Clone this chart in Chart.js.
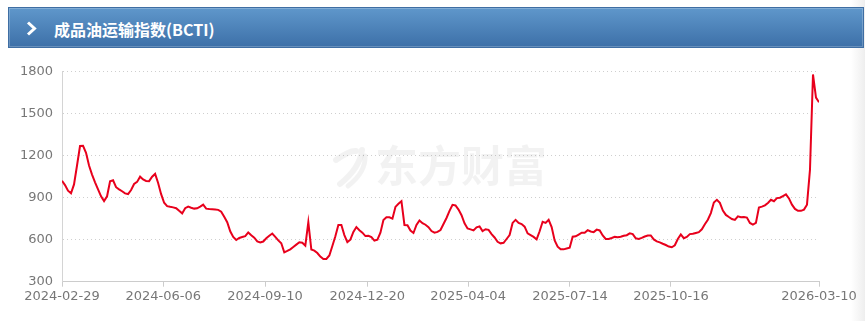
<!DOCTYPE html>
<html>
<head>
<meta charset="utf-8">
<script src="https://cdn.jsdelivr.net/npm/chart.js@4.4.1/dist/chart.umd.min.js"></script>
<style>
    body { margin: 0; width: 865px; height: 321px; background: #fff; position: relative; overflow: hidden; font-family: "DejaVu Sans", sans-serif; }
    .edge { position: absolute; top: 0; right: 0; width: 14px; height: 321px; background: linear-gradient(to right, rgba(240,240,240,0), #eeeeee); }
    .header { position: absolute; left: 8px; top: 7px; width: 854px; height: 39px; border: 1px solid #3f6ea3; box-shadow: inset 0 0 0 1px rgba(255,255,255,0.22); background: linear-gradient(#5f97cb, #3d70a8); }
    .header svg { position: absolute; left: 0; top: 0; }
    .title { position: absolute; left: 45px; top: 1px; font: bold 16px "Noto Sans CJK SC", sans-serif; line-height: 40px; color: #fff; }
    .chart-box { position: absolute; left: 0; top: 50px; width: 865px; height: 271px; }
</style>
</head>
<body>
<div class="edge"></div>
<div class="header">
    <svg width="40" height="40"><polyline points="19,14.5 25.5,20.5 19,26.5" fill="none" stroke="#fff" stroke-width="3"/></svg>
    <div class="title">成品油运输指数(BCTI)</div>
</div>
<div class="chart-box"><canvas id="bctiChart"></canvas></div>
<script>
// BCTI, one value about every 3 px of the original picture
const bctiValues = [
    1021, 990, 950, 931, 995, 1130, 1269, 1270, 1221, 1130,
    1065, 1010, 960, 910, 876, 910, 1017, 1024, 975, 960,
    946, 931, 926, 955, 998, 1013, 1050, 1030, 1020, 1018,
    1050, 1070, 1005, 925, 864, 840, 835, 831, 825, 806,
    788, 825, 836, 828, 822, 824, 836, 850, 822, 819,
    818, 816, 813, 800, 764, 725, 660, 620, 598, 612,
    619, 625, 652, 632, 615, 588, 581, 587, 610, 628,
    644, 620, 595, 575, 510, 520, 531, 548, 565, 582,
    578, 557, 725, 530, 522, 505, 479, 462, 462, 487,
    555, 625, 705, 705, 633, 583, 600, 655, 690, 668,
    650, 626, 628, 619, 594, 600, 650, 740, 760, 760,
    750, 834, 857, 875, 705, 703, 665, 648, 705, 737,
    718, 707, 690, 662, 650, 656, 669, 712, 755, 806,
    849, 845, 815, 775, 717, 680, 674, 666, 688, 695,
    662, 675, 670, 640, 616, 585, 574, 578, 605, 633,
    720, 742, 720, 712, 693, 645, 633, 620, 602, 660,
    728, 720, 742, 690, 595, 550, 531, 531, 537, 543,
    621, 624, 637, 650, 650, 668, 659, 654, 672, 666,
    630, 605, 605, 612, 620, 617, 621, 628, 632, 645,
    640, 610, 606, 613, 623, 630, 630, 602, 588, 581,
    571, 562, 551, 546, 560, 605, 638, 611, 620, 640,
    642, 648, 654, 674, 710, 743, 790, 866, 885, 863,
    808, 777, 762, 748, 741, 767, 760, 762, 758, 720,
    708, 720, 830, 836, 845, 862, 885, 875, 897, 900,
    912, 924, 895, 850, 820, 806, 806, 815, 850, 1100,
    1780, 1615, 1582
];

// where the date labels sit along the series
const tickIndex = [0, 33.7, 67.6, 101.6, 135.2, 169.1, 202.7, 252];
const tickLabels = ["2024-02-29", "2024-06-06", "2024-09-10", "2024-12-20", "2025-04-04", "2025-07-14", "2025-10-16", "2026-03-10"];

const yMin = 300, yMax = 1800, yStep = 300;

const points = bctiValues.map((v, i) => ({ x: i, y: v }));

// light watermark behind the line
const watermark = {
    id: "watermark",
    beforeDatasetsDraw(chart) {
        const ctx = chart.ctx;
        ctx.save();
        ctx.fillStyle = "rgba(0,0,0,0.05)";
        ctx.strokeStyle = "rgba(0,0,0,0.05)";
        ctx.font = "bold 43px 'Noto Sans CJK SC'";
        ctx.textBaseline = "middle";
        ctx.fillText("东方财富", 375, 116);
        ctx.lineCap = "round";
        ctx.lineWidth = 6;
        ctx.beginPath();
        ctx.moveTo(336, 110);
        ctx.quadraticCurveTo(350, 100, 356, 101);
        ctx.stroke();
        ctx.beginPath();
        ctx.moveTo(340, 134);
        ctx.quadraticCurveTo(360, 118, 362, 100);
        ctx.stroke();
        ctx.lineWidth = 5;
        ctx.beginPath();
        ctx.moveTo(348, 136);
        ctx.quadraticCurveTo(366, 122, 365, 106);
        ctx.stroke();
        ctx.restore();
    }
};

const ctx = document.getElementById("bctiChart").getContext("2d");

new Chart(ctx, {
    type: "line",
    data: {
        datasets: [{
            data: points,
            borderColor: "#e8001c",
            borderWidth: 2,
            pointRadius: 0,
            tension: 0,
            fill: false
        }]
    },
    options: {
        responsive: true,
        maintainAspectRatio: false,
        animation: false,
        layout: { padding: { top: 21.7, right: 46, left: 0, bottom: 0 } },
        plugins: { legend: { display: false }, tooltip: { enabled: false } },
        scales: {
            x: {
                type: "linear",
                min: 0,
                max: bctiValues.length - 1,
                afterBuildTicks: scale => { scale.ticks = tickIndex.map(v => ({ value: v })); },
                afterFit: scale => { scale.height = 39.3; },
                grid: { drawOnChartArea: false, drawTicks: true, tickLength: 5, color: "#cccccc" },
                border: { color: "#cccccc", width: 1 },
                ticks: {
                    autoSkip: false,
                    maxRotation: 0,
                    padding: 2,
                    color: "#777777",
                    font: { family: "DejaVu Sans", size: 13 },
                    callback: (v, i) => tickLabels[i]
                }
            },
            y: {
                min: yMin,
                max: yMax,
                afterFit: scale => { scale.width = 62; },
                grid: { drawTicks: false, color: "#cfcfcf" },
                border: { color: "#d4d4d4", width: 1, dash: [1, 3] },
                ticks: {
                    stepSize: yStep,
                    padding: 9,
                    color: "#777777",
                    font: { family: "DejaVu Sans", size: 13 },
                    callback: v => String(v)
                }
            }
        }
    },
    plugins: [watermark]
});
</script>
</body>
</html>
